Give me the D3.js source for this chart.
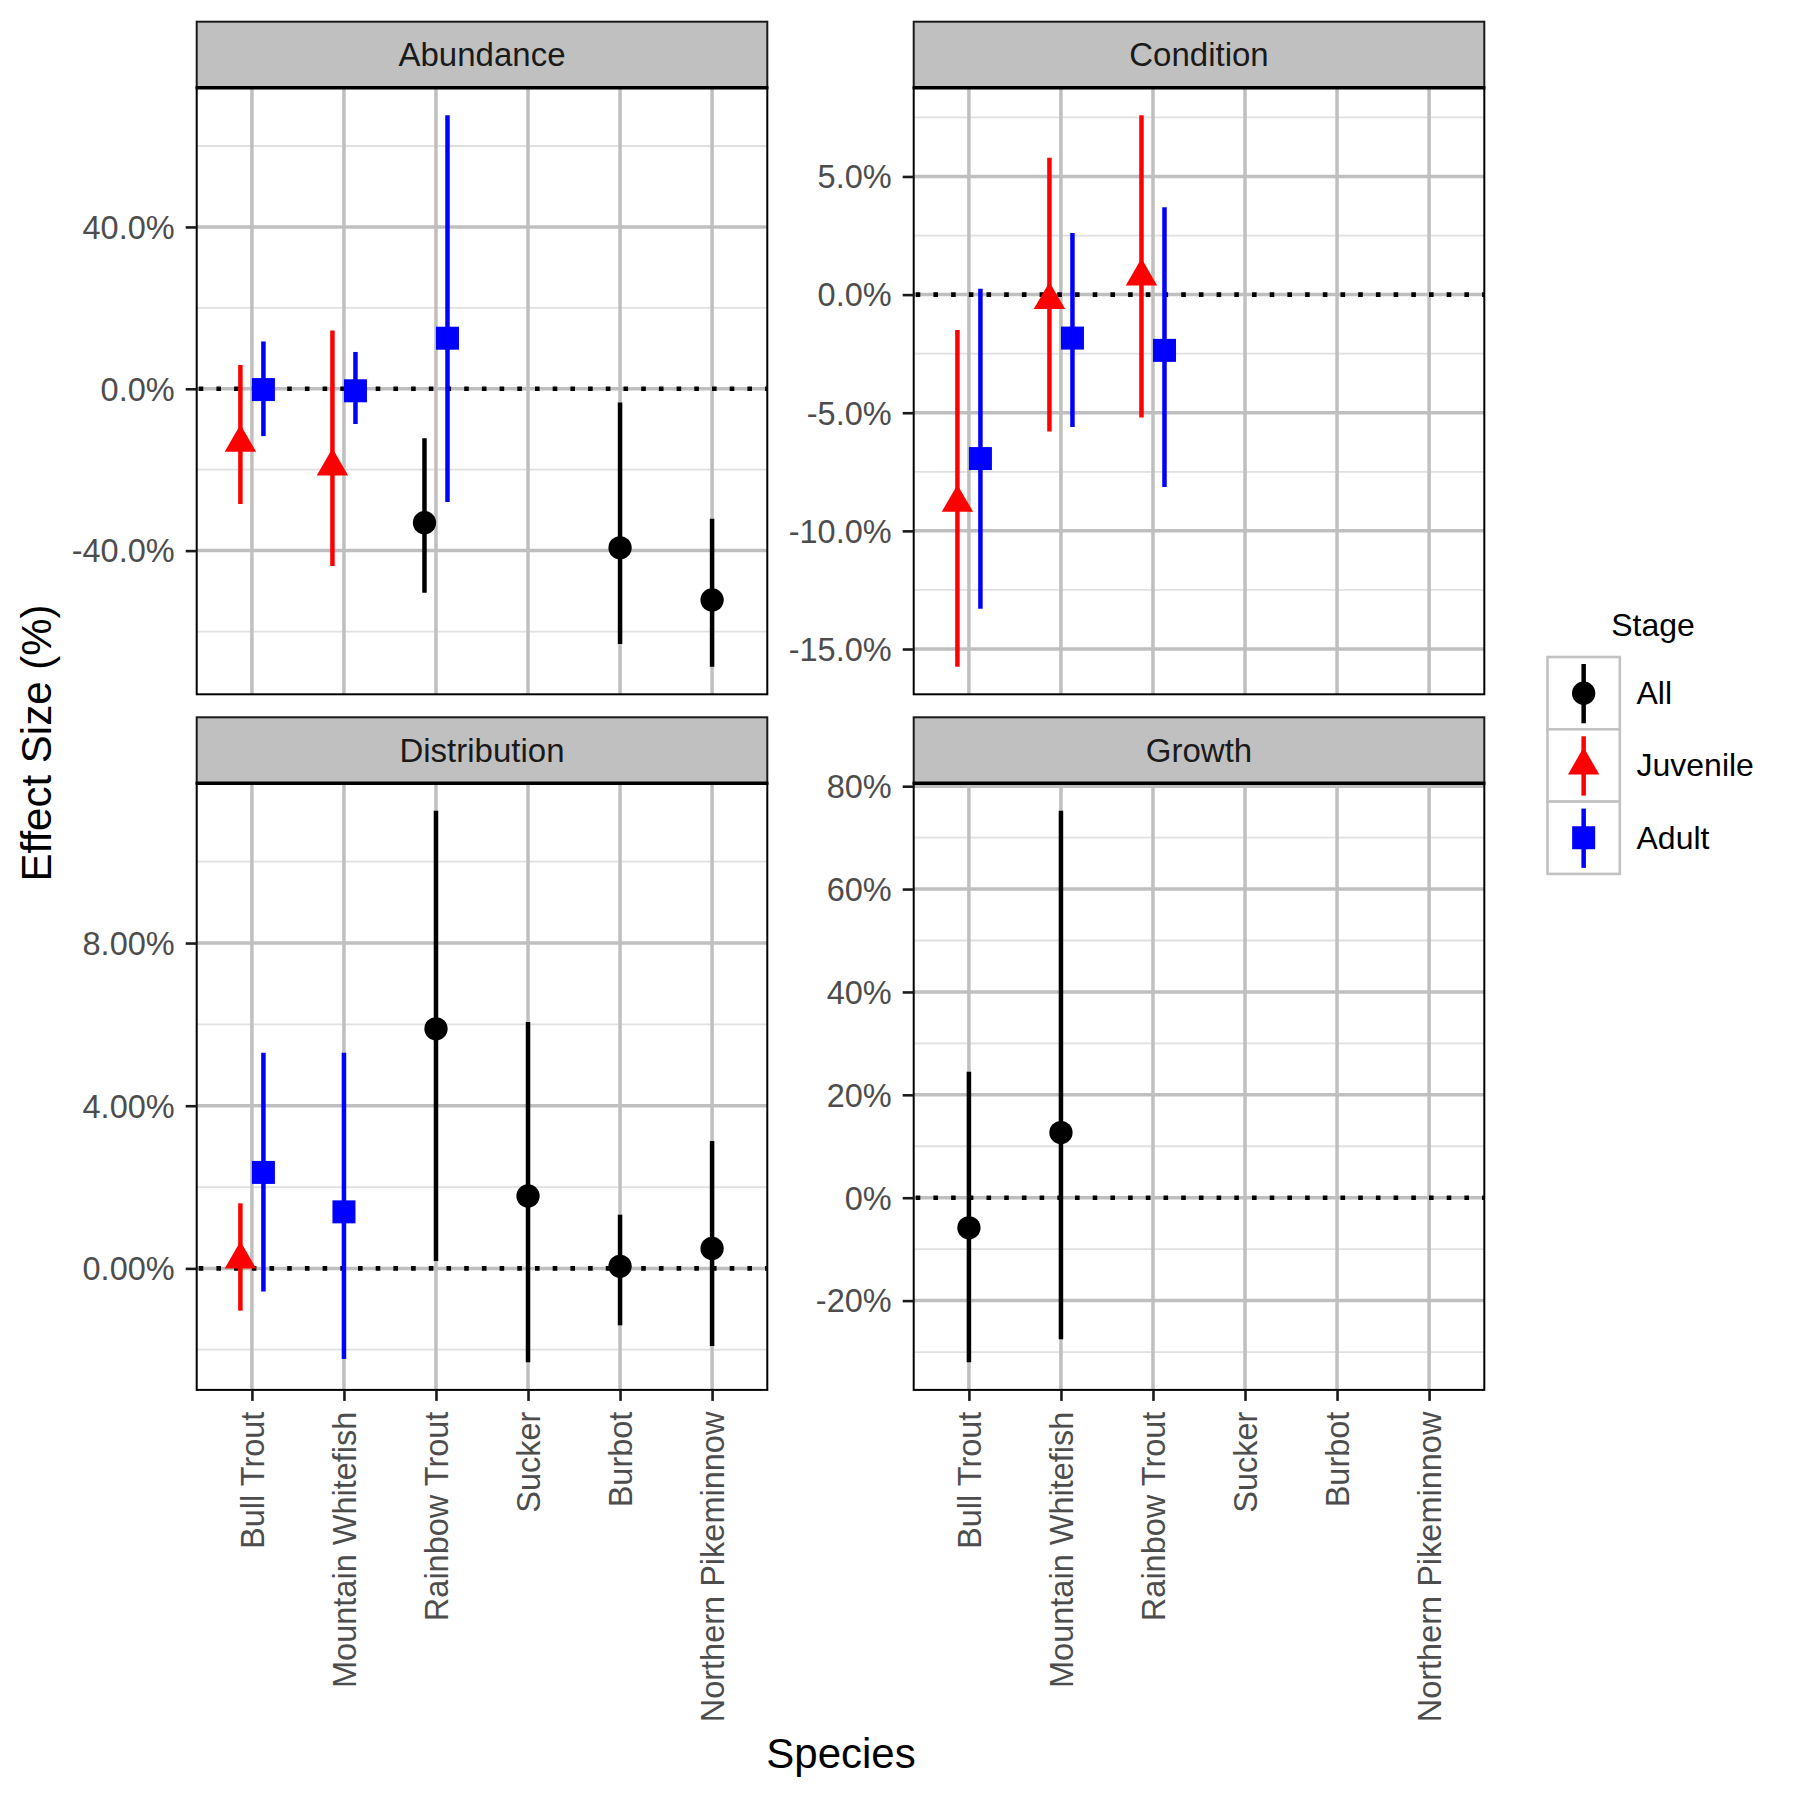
<!DOCTYPE html>
<html>
<head>
<meta charset="utf-8">
<script src="https://cdn.jsdelivr.net/npm/d3@7"></script>
<style>
  html, body { margin: 0; padding: 0; background: #ffffff; }
  svg { display: block; }
</style>
</head>
<body>
<svg id="chart" width="1800" height="1800"></svg>
<script>
// ---------------- DATA ----------------
const facets = ["Abundance", "Condition", "Distribution", "Growth"];
const species = ["Bull Trout", "Mountain Whitefish", "Rainbow Trout", "Sucker", "Burbot", "Northern Pikeminnow"];
const stages = ["All", "Juvenile", "Adult"];
const stageColors = ["#000000", "#FF0000", "#0000FF"];

// one entry per point range
const rowFacet   = ["Abundance","Abundance","Abundance","Abundance","Abundance","Abundance","Abundance","Abundance",
                    "Condition","Condition","Condition","Condition","Condition","Condition",
                    "Distribution","Distribution","Distribution","Distribution","Distribution","Distribution","Distribution",
                    "Growth","Growth"];
const rowSpecies = ["Bull Trout","Bull Trout","Mountain Whitefish","Mountain Whitefish","Rainbow Trout","Rainbow Trout","Burbot","Northern Pikeminnow",
                    "Bull Trout","Bull Trout","Mountain Whitefish","Mountain Whitefish","Rainbow Trout","Rainbow Trout",
                    "Bull Trout","Bull Trout","Mountain Whitefish","Rainbow Trout","Sucker","Burbot","Northern Pikeminnow",
                    "Bull Trout","Mountain Whitefish"];
const rowStage   = ["Juvenile","Adult","Juvenile","Adult","All","Adult","All","All",
                    "Juvenile","Adult","Juvenile","Adult","Juvenile","Adult",
                    "Juvenile","Adult","Adult","All","All","All","All",
                    "All","All"];
const rowEst     = [-13.3, -0.2, -19.2, -0.5, -33.1, 12.5, -39.3, -52.2,
                    -8.81, -6.94, -0.23, -1.84, 0.77, -2.36,
                    0.22, 2.36, 1.39, 5.89, 1.78, 0.05, 0.49,
                    -5.86, 12.66];
const rowLow     = [-28.5, -11.7, -43.8, -8.7, -50.4, -28.0, -63.1, -68.7,
                    -15.75, -13.3, -5.79, -5.60, -5.20, -8.14,
                    -1.04, -0.57, -2.23, 0.18, -2.31, -1.40, -1.91,
                    -32.0, -27.5];
const rowHigh    = [5.85, 11.7, 14.4, 9.1, -12.2, 67.6, -3.4, -32.1,
                    -1.5, 0.25, 5.79, 2.61, 7.59, 3.70,
                    1.60, 5.30, 5.30, 11.25, 6.06, 1.32, 3.13,
                    24.5, 75.2];

// y-axis ticks per facet
const tickValues = {
  Abundance:    [-40, 0, 40],
  Condition:    [-15, -10, -5, 0, 5],
  Distribution: [0, 4, 8],
  Growth:       [-20, 0, 20, 40, 60, 80]
};
const tickLabels = {
  Abundance:    ["-40.0%", "0.0%", "40.0%"],
  Condition:    ["-15.0%", "-10.0%", "-5.0%", "0.0%", "5.0%"],
  Distribution: ["0.00%", "4.00%", "8.00%"],
  Growth:       ["-20%", "0%", "20%", "40%", "60%", "80%"]
};

const xTitle = "Species";
const yTitle = "Effect Size (%)";
const legendTitle = "Stage";

// ---------------- LAYOUT ----------------
const FONT = "'Liberation Sans', Arial, Helvetica, sans-serif";
const panelLeft = [196.7, 913.7];
const panelW = 570.6;
const stripTop = [21.7, 717.3];
const stripH = 66;
const panelH = 606.6;
const dodge = 0.25;

const data = rowFacet.map((f, i) => ({
  facet: f, species: rowSpecies[i], stage: rowStage[i],
  est: rowEst[i], lo: rowLow[i], hi: rowHigh[i]
}));

const svg = d3.select("#chart");
svg.append("rect").attr("width", 1800).attr("height", 1800).attr("fill", "#fff");

const color = d3.scaleOrdinal().domain(stages).range(stageColors);

function drawShape(g, stage, x, y, col) {
  if (stage === "All") {
    g.append("circle").attr("cx", x).attr("cy", y).attr("r", 11.65).attr("fill", col);
  } else if (stage === "Juvenile") {
    const r = 18.1, yc = 9.06, hw = 15.7;
    g.append("path")
      .attr("d", `M${x},${y - r}L${x + hw},${y + yc}L${x - hw},${y + yc}Z`)
      .attr("fill", col);
  } else {
    g.append("rect").attr("x", x - 11.5).attr("y", y - 11.5)
      .attr("width", 23).attr("height", 23).attr("fill", col);
  }
}

facets.forEach((facet, fi) => {
  const col = fi % 2, row = Math.floor(fi / 2);
  const x0 = panelLeft[col];
  const sTop = stripTop[row];
  const pTop = sTop + stripH;
  const pBot = pTop + panelH;
  const rows = data.filter(d => d.facet === facet);

  const lo = d3.min(rows, d => Math.min(d.lo, d.est, 0));
  const hi = d3.max(rows, d => Math.max(d.hi, d.est, 0));
  const pad = (hi - lo) * 0.05;
  const y = d3.scaleLinear().domain([lo - pad, hi + pad]).range([pBot, pTop]);
  const x = d3.scalePoint().domain(species).range([x0, x0 + panelW]).padding(0.6);
  const step = x.step();

  const g = svg.append("g");
  g.append("rect").attr("x", x0).attr("y", pTop).attr("width", panelW).attr("height", panelH).attr("fill", "#fff");

  // minor gridlines
  const ticks = tickValues[facet];
  const tstep = ticks[1] - ticks[0];
  const minors = [];
  for (let v = ticks[0] - tstep / 2; v <= hi + pad; v += tstep) {
    if (v >= lo - pad) minors.push(v);
  }
  g.selectAll(".minor").data(minors).enter().append("line")
    .attr("x1", x0).attr("x2", x0 + panelW)
    .attr("y1", d => y(d)).attr("y2", d => y(d))
    .attr("stroke", "#E0E0E0").attr("stroke-width", 1.8);
  // major gridlines
  g.selectAll(".majy").data(ticks).enter().append("line")
    .attr("x1", x0).attr("x2", x0 + panelW)
    .attr("y1", d => y(d)).attr("y2", d => y(d))
    .attr("stroke", "#BFBFBF").attr("stroke-width", 3.5);
  g.selectAll(".majx").data(species).enter().append("line")
    .attr("x1", d => x(d)).attr("x2", d => x(d))
    .attr("y1", pTop).attr("y2", pBot)
    .attr("stroke", "#BFBFBF").attr("stroke-width", 3.5);

  // zero reference line
  g.append("line").attr("x1", x0 + 2).attr("x2", x0 + panelW)
    .attr("y1", y(0)).attr("y2", y(0))
    .attr("stroke", "#000").attr("stroke-width", 4.6)
    .attr("stroke-dasharray", "4.6 13.1");

  // point ranges with dodge
  rows.forEach(d => {
    const grp = rows.filter(r => r.species === d.species)
      .sort((a, b) => stages.indexOf(a.stage) - stages.indexOf(b.stage));
    const n = grp.length;
    const k = grp.indexOf(d);
    const off = n > 1 ? (-dodge / 2 + dodge * k / (n - 1)) : 0;
    const cx = x(d.species) + off * step;
    const c = color(d.stage);
    g.append("line").attr("x1", cx).attr("x2", cx)
      .attr("y1", y(d.lo)).attr("y2", y(d.hi))
      .attr("stroke", c).attr("stroke-width", 4.5);
    drawShape(g, d.stage, cx, y(d.est), c);
  });

  // panel border
  g.append("rect").attr("x", x0).attr("y", pTop).attr("width", panelW).attr("height", panelH)
    .attr("fill", "none").attr("stroke", "#000").attr("stroke-width", 2);

  // strip
  g.append("rect").attr("x", x0).attr("y", sTop).attr("width", panelW).attr("height", stripH)
    .attr("fill", "#C0C0C0").attr("stroke", "#1a1a1a").attr("stroke-width", 2);
  g.append("line").attr("x1", x0 - 1).attr("x2", x0 + panelW + 1)
    .attr("y1", pTop).attr("y2", pTop).attr("stroke", "#000").attr("stroke-width", 3.5);
  g.append("text").attr("x", x0 + panelW / 2).attr("y", sTop + stripH / 2)
    .attr("text-anchor", "middle").attr("dominant-baseline", "central")
    .attr("font-family", FONT).attr("font-size", 33).attr("fill", "#1A1A1A")
    .text(facet);

  // y axis
  const yAxis = d3.axisLeft(y).tickValues(ticks)
    .tickFormat((v) => tickLabels[facet][ticks.indexOf(v)])
    .tickSize(11).tickPadding(11);
  const ya = svg.append("g").attr("transform", `translate(${x0},0)`).call(yAxis);
  ya.select(".domain").remove();
  ya.selectAll(".tick line").attr("stroke", "#1a1a1a").attr("stroke-width", 2.6);
  ya.selectAll(".tick text").attr("font-family", FONT).attr("font-size", 32.5)
    .attr("fill", "#4D4D4D").attr("dy", "0.35em");

  // x axis on bottom row only
  if (row === 1) {
    const xAxis = d3.axisBottom(x).tickSize(11).tickPadding(0);
    const xa = svg.append("g").attr("transform", `translate(0,${pBot})`).call(xAxis);
    xa.select(".domain").remove();
    xa.selectAll(".tick line").attr("stroke", "#1a1a1a").attr("stroke-width", 2.6);
    xa.selectAll(".tick text")
      .attr("font-family", FONT).attr("font-size", 32.5).attr("fill", "#4D4D4D")
      .attr("text-anchor", "end")
      .attr("transform", "translate(0,21.7) rotate(-90)")
      .attr("x", 0).attr("y", 0).attr("dy", "0.35em");
  }
});

// axis titles
svg.append("text").attr("x", 841).attr("y", 1768).attr("text-anchor", "middle")
  .attr("font-family", FONT).attr("font-size", 42).attr("fill", "#000").text(xTitle);
svg.append("text").attr("transform", "translate(51,743) rotate(-90)").attr("text-anchor", "middle")
  .attr("font-family", FONT).attr("font-size", 42).attr("fill", "#000").text(yTitle);

// legend
const lg = svg.append("g");
lg.append("text").attr("x", 1653).attr("y", 636).attr("text-anchor", "middle")
  .attr("font-family", FONT).attr("font-size", 32).attr("fill", "#000").text(legendTitle);
const keyX = 1547.5, keyTop = 657, keyS = 72.3;
stages.forEach((s, i) => {
  const ky = keyTop + i * keyS;
  lg.append("rect").attr("x", keyX).attr("y", ky).attr("width", keyS).attr("height", keyS)
    .attr("fill", "#fff").attr("stroke", "#C2C2C2").attr("stroke-width", 2.6);
  const cx = keyX + keyS / 2, cy = ky + keyS / 2;
  lg.append("line").attr("x1", cx).attr("x2", cx).attr("y1", ky + 7).attr("y2", ky + keyS - 6)
    .attr("stroke", stageColors[i]).attr("stroke-width", 4.5);
  drawShape(lg, s, cx, cy, stageColors[i]);
  lg.append("text").attr("x", 1636.5).attr("y", cy).attr("dominant-baseline", "central")
    .attr("font-family", FONT).attr("font-size", 32).attr("fill", "#000").text(s);
});
</script>
</body>
</html>
